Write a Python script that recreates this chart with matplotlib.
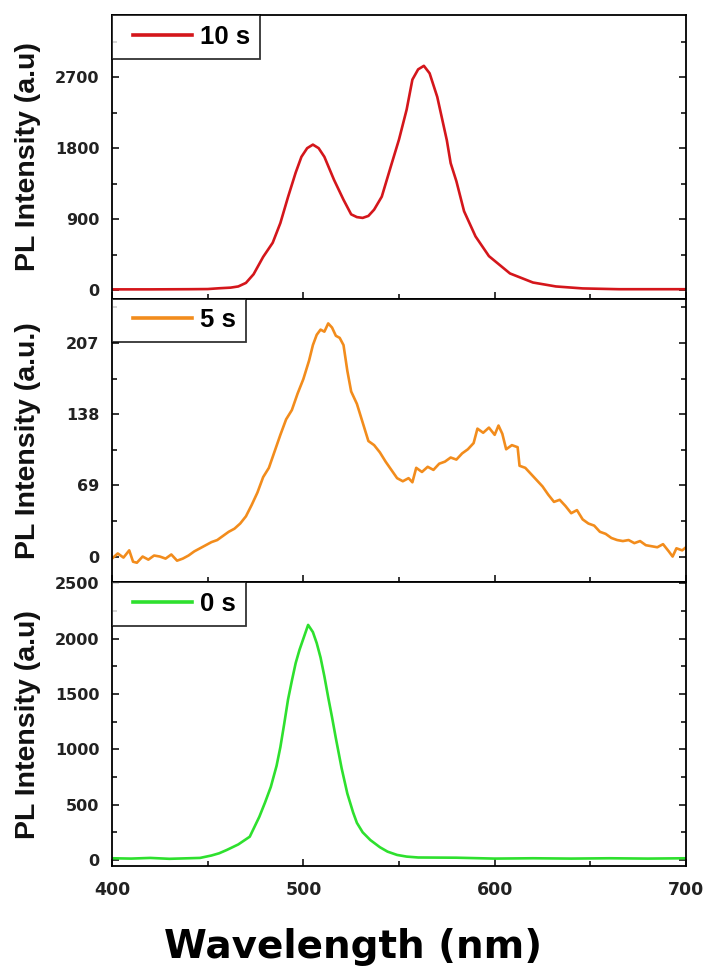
import matplotlib
matplotlib.use("Agg")
import matplotlib.pyplot as plt
from matplotlib.ticker import MultipleLocator, FixedLocator
from matplotlib.legend_handler import HandlerLine2D
from matplotlib.lines import Line2D

# ---------------- data ----------------
wl_10s = [400, 420, 440, 450, 456, 462, 466, 470, 474, 479, 484, 488, 492, 496, 499, 502,
          505, 508, 511, 516, 521, 525, 528, 531, 534, 537, 541, 546, 550, 554, 557, 560,
          563, 566, 570, 575, 577, 580, 584, 590, 597, 608, 620, 632, 646, 665, 700]
pl_10s = [8, 8, 10, 12, 22, 30, 45, 90, 200, 420, 600, 850, 1180, 1490, 1690, 1800,
          1845, 1800, 1690, 1400, 1145, 960, 925, 915, 940, 1020, 1185, 1590, 1910, 2290, 2670, 2800,
          2845, 2750, 2450, 1900, 1610, 1380, 1000, 680, 430, 210, 95, 45, 20, 10, 10]

wl_5s = [400, 403, 406, 409, 411, 413, 416, 419, 422, 425, 428, 431, 434, 437, 440, 443,
         446, 449, 452, 455, 458, 461, 464, 467, 470, 473, 476, 479, 482, 485, 488, 491,
         494, 497, 500, 503, 505, 507, 509, 511, 513, 515, 517, 519, 521, 523, 525, 528,
         531, 534, 537, 540, 543, 546, 549, 552, 555, 557, 559, 562, 565, 568, 571, 574,
         577, 580, 583, 586, 589, 591, 594, 597, 600, 602, 604, 606, 609, 612, 613, 616,
         619, 622, 625, 628, 631, 634, 637, 640, 643, 646, 649, 652, 655, 658, 661, 664,
         667, 670, 673, 676, 679, 682, 685, 688, 691, 693, 695, 698, 700]
pl_5s = [-2, 3, -1, 6, -5, -6, 0, -3, 1, 0, -2, 2, -4, -2, 1, 5,
         8, 11, 14, 16, 20, 24, 27, 32, 39, 50, 62, 77, 86, 102, 118, 133,
         142, 158, 172, 190, 205, 215, 220, 218, 226, 222, 214, 212, 205, 180, 160, 148,
         130, 112, 108, 101, 92, 84, 76, 73, 76, 72, 86, 82, 87, 84, 90, 92,
         96, 94, 100, 104, 110, 124, 120, 125, 118, 127, 119, 104, 108, 106, 88, 86,
         80, 74, 68, 60, 53, 55, 49, 42, 45, 36, 32, 30, 24, 22, 18, 16,
         15, 16, 13, 15, 11, 10, 9, 12, 5, 0, 8, 6, 9]

wl_0s = [400, 410, 420, 430, 440, 446, 452, 456, 460, 466, 472, 477, 480, 483, 486, 488,
         490, 492, 494, 496, 498, 500, 502.5, 505, 507, 509, 511, 513, 515, 517, 520, 523,
         526, 528, 531, 535, 540, 544, 549, 554, 560, 580, 600, 620, 640, 660, 680, 700]
pl_0s = [15, 12, 18, 10, 15, 18, 40, 60, 90, 140, 210, 390, 520, 660, 850, 1020,
         1230, 1450, 1620, 1780, 1900, 2000, 2125, 2060, 1960, 1830, 1660, 1470, 1290, 1100, 830, 600,
         430, 335, 250, 180, 115, 75, 45, 30, 22, 20, 12, 15, 12, 15, 12, 15]

labels = ["10 s", "5 s", "0 s"]
colors = ["#d4161b", "#f28c1c", "#2ee02e"]
ylabels = ["PL Intensity (a.u)", "PL Intensity (a.u.)", "PL Intensity (a.u)"]
yticks = [[0, 900, 1800, 2700], [0, 69, 138, 207], [0, 500, 1000, 1500, 2000, 2500]]
yminor = [450, 34.5, 250]
ylims = [(-110, 3490), (-25, 250), (-55, 2510)]
xticks = [400, 500, 600, 700]

series = [(wl_10s, pl_10s), (wl_5s, pl_5s), (wl_0s, pl_0s)]

# ---------------- figure ----------------
W, H = 707, 980
fig = plt.figure(figsize=(W / 100, H / 100), dpi=100)
gs = fig.add_gridspec(3, 1, left=112 / W, right=686 / W, top=1 - 15 / H,
                      bottom=1 - 866 / H, hspace=0)

for i in range(3):
    ax = fig.add_subplot(gs[i])
    x, y = series[i]
    line, = ax.plot(x, y, color=colors[i], lw=1.9, label=labels[i])
    ax.set_xlim(400, 700)
    ax.set_ylim(*ylims[i])
    ax.yaxis.set_major_locator(FixedLocator(yticks[i]))
    ax.yaxis.set_minor_locator(MultipleLocator(yminor[i]))
    ax.xaxis.set_major_locator(FixedLocator(xticks))
    ax.xaxis.set_minor_locator(MultipleLocator(50))
    ax.tick_params(which="both", direction="in", top=False, right=True,
                   width=1.1, color="black")
    ax.tick_params(which="major", length=5)
    ax.tick_params(which="minor", length=3.8)
    ax.tick_params(axis="y", pad=9, labelsize=11.5, labelcolor="#222222")
    ax.tick_params(axis="x", pad=11, labelsize=12.5, labelcolor="#222222")
    for lab in ax.get_yticklabels() + ax.get_xticklabels():
        lab.set_fontfamily("DejaVu Sans")
        lab.set_fontweight("bold")
    if i < 2:
        ax.tick_params(axis="x", labelbottom=False)
    for sp in ax.spines.values():
        sp.set_linewidth(1.3)
        sp.set_color("black")
    leg = ax.legend(loc="upper left", borderaxespad=0.0, frameon=True, fancybox=False,
                    handlelength=2.75, handletextpad=0.3, borderpad=0.38,
                    handler_map={Line2D: HandlerLine2D(xpad=0.45)},
                    prop=dict(family="Liberation Sans", weight="bold", size=18.5))
    leg.get_frame().set_edgecolor("black")
    leg.get_frame().set_linewidth(1.3)
    for l in leg.get_lines():
        l.set_linewidth(2.6)
    pos = ax.get_position()
    fig.text(28 / W, (pos.y0 + pos.y1) / 2, ylabels[i], rotation=90,
             ha="center", va="center", fontsize=20.5,
             family="Liberation Sans", weight="bold", color="#111111")

fig.text(0.5, 1 - 958 / H, "Wavelength (nm)", ha="center", va="baseline",
         fontsize=28, family="DejaVu Sans", weight="bold", color="black")

fig.savefig("out.png", dpi=100)
